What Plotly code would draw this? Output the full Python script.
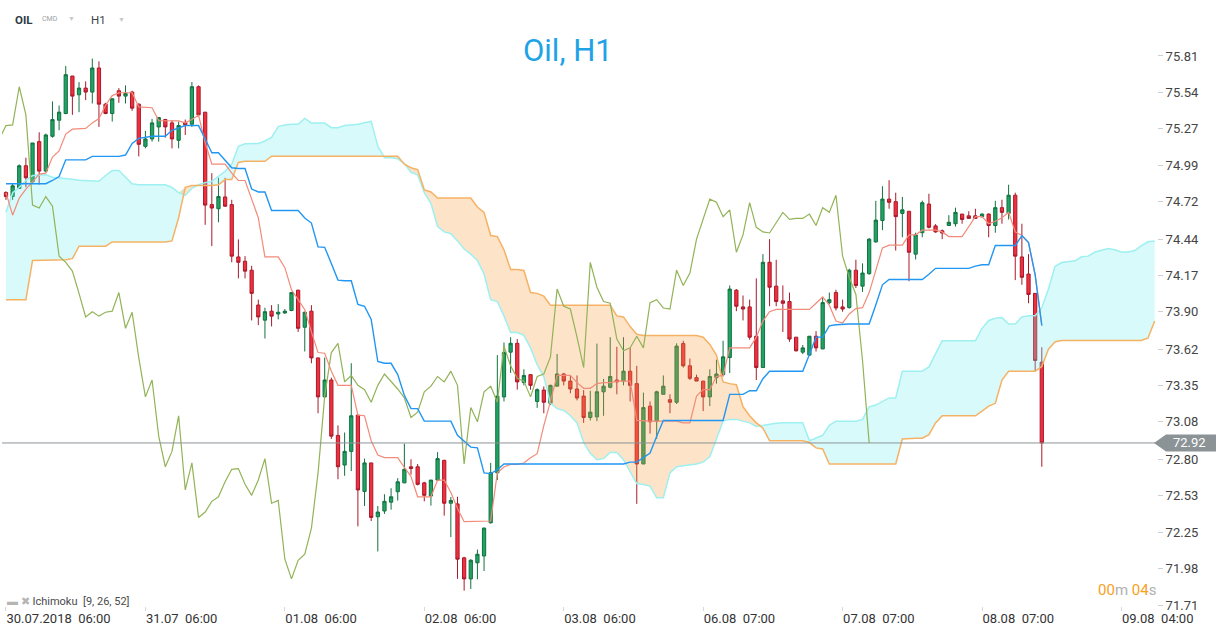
import plotly.graph_objects as go

# ---------------- data ----------------
x_tick_labels = ["30.07.2018\u00a0\u00a006:00", "31.07\u00a0\u00a006:00", "01.08\u00a0\u00a006:00",
                 "02.08\u00a0\u00a006:00", "03.08\u00a0\u00a006:00", "06.08\u00a0\u00a007:00",
                 "07.08\u00a0\u00a007:00", "08.08\u00a0\u00a007:00", "09.08\u00a0\u00a004:00"]
x_tick_bars = [0, 21, 42, 63, 84, 105, 126, 147, 168]
y_tick_labels = ["71.71", "71.98", "72.25", "72.53", "72.80", "73.08", "73.35", "73.62",
                 "73.90", "74.17", "74.44", "74.72", "74.99", "75.27", "75.54", "75.81"]
last_price = 72.92

open_ = [74.79, 74.76, 74.82, 74.99, 74.87, 75.17, 74.95, 75.21, 75.33, 75.38,
         75.66, 75.52, 75.57, 75.54, 75.72, 75.45, 75.38, 75.55, 75.51, 75.54,
         75.45, 75.135, 75.19, 75.28, 75.335, 75.31, 75.18, 75.314, 75.30, 75.58,
         75.39, 74.70, 74.669, 74.757, 74.70, 74.309, 74.277, 74.21, 73.95, 73.837,
         73.904, 73.883, 73.891, 73.909, 74.061, 73.784, 73.904, 73.555, 73.264, 73.39,
         72.976, 72.755, 72.857, 73.128, 72.558, 72.771, 72.369, 72.412, 72.478, 72.556,
         72.622, 72.742, 72.742, 72.622, 72.524, 72.643, 72.79, 72.47, 72.465, 72.062,
         71.905, 72.025, 72.076, 72.324, 72.697, 73.264, 73.598, 73.664, 73.371, 73.43,
         73.23, 73.315, 73.216, 73.344, 73.435, 73.382, 73.323, 73.27, 73.11, 73.115,
         73.302, 73.336, 73.39, 73.382, 73.456, 73.363, 72.763, 73.195, 73.083, 73.283,
         73.243, 73.224, 73.662, 73.496, 73.408, 73.382, 73.264, 73.408, 73.43, 73.558,
         74.061, 73.936, 73.936, 73.717, 73.483, 74.269, 74.091, 73.981, 73.976, 73.71,
         73.598, 73.576, 73.717, 73.622, 73.968, 74.043, 73.936, 73.931, 74.21, 74.091,
         74.184, 74.421, 74.581, 74.741, 74.722, 74.634, 74.65, 74.33, 74.49, 74.704,
         74.541, 74.504, 74.544, 74.557, 74.629, 74.616, 74.616, 74.61, 74.629, 74.544,
         74.677, 74.634, 74.77, 74.309, 74.181, 74.037, 73.523]
high = [74.80, 74.86, 75.00, 75.05, 75.16, 75.24, 75.23, 75.47, 75.44, 75.735,
        75.66, 75.615, 75.62, 75.79, 75.77, 75.46, 75.495, 75.57, 75.59, 75.55,
        75.455, 75.25, 75.34, 75.35, 75.34, 75.33, 75.32, 75.335, 75.615, 75.59,
        75.39, 74.935, 74.90, 74.90, 74.736, 74.44, 74.315, 74.243, 73.99, 73.93,
        73.949, 73.957, 73.92, 74.048, 74.064, 73.90, 73.949, 73.558, 73.558, 73.408,
        73.051, 72.998, 73.515, 73.128, 72.803, 72.771, 72.449, 72.537, 72.582, 72.657,
        72.915, 72.798, 72.763, 72.63, 72.643, 72.851, 72.795, 72.516, 72.518, 72.07,
        72.052, 72.124, 72.289, 72.771, 73.576, 73.67, 73.71, 73.696, 73.47, 73.435,
        73.328, 73.342, 73.355, 73.584, 73.443, 73.424, 73.424, 73.315, 73.31, 73.662,
        73.398, 73.71, 73.638, 73.71, 73.63, 73.496, 73.296, 73.23, 73.31, 73.424,
        73.283, 73.664, 73.683, 73.55, 73.43, 73.382, 73.47, 73.542, 73.683, 74.096,
        74.069, 74.021, 73.99, 74.149, 74.33, 74.442, 74.288, 74.096, 74.043, 73.71,
        73.651, 73.717, 73.755, 74.008, 74.043, 74.064, 73.99, 74.221, 74.288, 74.261,
        74.45, 74.728, 74.837, 74.882, 74.789, 74.757, 74.65, 74.49, 74.73, 74.781,
        74.554, 74.514, 74.621, 74.677, 74.629, 74.65, 74.669, 74.634, 74.634, 74.728,
        74.736, 74.848, 74.789, 74.557, 74.33, 74.037, 73.635]
low = [74.735, 74.735, 74.82, 74.83, 74.86, 74.85, 74.94, 75.20, 75.255, 75.375,
       75.37, 75.39, 75.48, 75.455, 75.28, 75.375, 75.32, 75.46, 75.455, 75.40,
       75.06, 75.12, 75.17, 75.17, 75.20, 75.12, 75.12, 75.22, 75.28, 75.36,
       74.549, 74.39, 74.568, 74.682, 74.269, 74.149, 74.149, 73.835, 73.80, 73.70,
       73.79, 73.843, 73.883, 73.904, 73.749, 73.603, 73.515, 73.142, 73.256, 72.95,
       72.649, 72.675, 72.71, 72.297, 72.449, 72.337, 72.11, 72.39, 72.422, 72.49,
       72.62, 72.683, 72.603, 72.484, 72.452, 72.635, 72.377, 72.217, 71.905, 71.817,
       71.83, 71.902, 71.964, 72.318, 72.643, 73.23, 73.443, 73.318, 73.35, 73.318,
       73.182, 73.142, 73.203, 73.344, 73.35, 73.291, 73.238, 73.07, 73.088, 73.083,
       73.123, 73.328, 73.283, 73.35, 73.23, 72.465, 72.763, 72.99, 72.95, 73.283,
       73.142, 73.211, 73.483, 73.39, 73.382, 73.158, 73.195, 73.363, 73.416, 73.443,
       73.904, 73.835, 73.691, 73.39, 73.483, 73.941, 73.941, 73.749, 73.675, 73.603,
       73.584, 73.571, 73.603, 73.622, 73.957, 73.909, 73.90, 73.923, 74.077, 74.048,
       74.176, 74.416, 74.509, 74.669, 74.357, 74.456, 74.128, 74.29, 74.456, 74.522,
       74.49, 74.442, 74.541, 74.536, 74.557, 74.597, 74.594, 74.602, 74.456, 74.49,
       74.557, 74.589, 74.136, 74.101, 73.963, 73.456, 72.742]
close = [74.76, 74.84, 74.99, 74.90, 75.16, 74.95, 75.22, 75.335, 75.39, 75.67,
         75.51, 75.57, 75.54, 75.72, 75.45, 75.38, 75.49, 75.51, 75.53, 75.42,
         75.15, 75.19, 75.31, 75.35, 75.28, 75.19, 75.29, 75.295, 75.58, 75.37,
         74.696, 74.674, 74.76, 74.688, 74.315, 74.269, 74.203, 74.037, 73.861, 73.90,
         73.867, 73.896, 73.904, 74.043, 73.776, 73.896, 73.555, 73.264, 73.39, 72.971,
         72.742, 72.857, 73.123, 72.569, 72.771, 72.364, 72.404, 72.484, 72.518, 72.63,
         72.723, 72.729, 72.611, 72.529, 72.643, 72.803, 72.47, 72.491, 72.052, 71.905,
         72.044, 72.089, 72.284, 72.697, 73.27, 73.595, 73.664, 73.376, 73.424, 73.35,
         73.318, 73.224, 73.35, 73.435, 73.382, 73.323, 73.256, 73.11, 73.15, 73.302,
         73.344, 73.416, 73.376, 73.456, 73.35, 72.763, 73.184, 73.078, 73.302, 73.344,
         73.224, 73.643, 73.496, 73.403, 73.382, 73.264, 73.416, 73.435, 73.563, 74.069,
         73.941, 73.92, 73.71, 73.483, 74.269, 74.083, 73.976, 73.963, 73.696, 73.608,
         73.63, 73.717, 73.63, 73.968, 73.99, 73.928, 73.92, 74.21, 74.096, 74.189,
         74.442, 74.584, 74.741, 74.717, 74.61, 74.661, 74.344, 74.474, 74.714, 74.53,
         74.496, 74.488, 74.568, 74.642, 74.589, 74.597, 74.597, 74.629, 74.544, 74.677,
         74.642, 74.77, 74.315, 74.157, 74.029, 73.536, 72.92]

tenkan = [74.789, 74.621, 74.749, 74.816, 74.869, 74.927, 74.935, 75.055, 75.10, 75.226,
          75.263, 75.266, 75.269, 75.31, 75.343, 75.442, 75.514, 75.535, 75.535, 75.535,
          75.429, 75.426, 75.423, 75.327, 75.325, 75.325, 75.325, 75.31, 75.335, 75.367,
          75.162, 75.002, 75.002, 75.002, 74.935, 74.88, 74.88, 74.736, 74.602, 74.309,
          74.309, 74.309, 74.229, 74.064, 73.99, 73.915, 73.749, 73.595, 73.59, 73.456,
          73.35, 73.35, 73.35, 73.128, 73.123, 72.937, 72.83, 72.811, 72.811, 72.811,
          72.737, 72.67, 72.518, 72.518, 72.518, 72.643, 72.643, 72.55, 72.43, 72.332,
          72.332, 72.332, 72.332, 72.337, 72.697, 72.74, 72.76, 72.76, 72.77, 72.81,
          72.84, 73.05, 73.23, 73.424, 73.424, 73.424, 73.37, 73.328, 73.328, 73.363,
          73.371, 73.371, 73.382, 73.382, 73.382, 73.088, 73.083, 73.083, 73.083, 73.083,
          73.083, 73.083, 73.07, 73.07, 73.27, 73.318, 73.318, 73.416, 73.424, 73.63,
          73.63, 73.63, 73.63, 73.71, 73.83, 73.90, 73.917, 73.917, 73.917, 73.917,
          73.917, 73.917, 73.963, 74.01, 73.949, 73.83, 73.816, 73.883, 73.923, 73.93,
          74.043, 74.203, 74.376, 74.397, 74.397, 74.397, 74.474, 74.474, 74.509, 74.509,
          74.509, 74.496, 74.461, 74.461, 74.461, 74.536, 74.61, 74.61, 74.557, 74.576,
          74.602, 74.642, 74.496, 74.469, 74.416, 74.176, 73.797]
kijun = [74.856, 74.856, 74.856, 74.856, 74.856, 74.856, 74.856, 74.88, 74.909, 75.034,
         75.034, 75.034, 75.034, 75.06, 75.06, 75.06, 75.06, 75.06, 75.07, 75.157,
         75.194, 75.20, 75.21, 75.21, 75.21, 75.255, 75.274, 75.29, 75.29, 75.29,
         75.19, 75.087, 75.087, 75.03, 74.975, 74.97, 74.97, 74.816, 74.794, 74.794,
         74.656, 74.656, 74.656, 74.656, 74.656, 74.60, 74.562, 74.384, 74.381, 74.26,
         74.136, 74.131, 74.131, 73.955, 73.941, 73.843, 73.528, 73.515, 73.515, 73.43,
         73.275, 73.176, 73.176, 73.083, 73.083, 73.083, 73.083, 73.083, 72.977, 72.93,
         72.889, 72.883, 72.697, 72.691, 72.72, 72.763, 72.763, 72.763, 72.763, 72.763,
         72.763, 72.763, 72.763, 72.763, 72.763, 72.763, 72.763, 72.763, 72.763, 72.763,
         72.763, 72.763, 72.763, 72.763, 72.777, 72.777, 72.81, 72.844, 72.97, 73.088,
         73.088, 73.088, 73.088, 73.088, 73.088, 73.088, 73.088, 73.088, 73.088, 73.283,
         73.283, 73.283, 73.31, 73.31, 73.40, 73.456, 73.456, 73.456, 73.456, 73.456,
         73.456, 73.58, 73.71, 73.71, 73.795, 73.803, 73.808, 73.808, 73.808, 73.808,
         73.808, 73.95, 74.101, 74.141, 74.141, 74.141, 74.141, 74.141, 74.141, 74.18,
         74.224, 74.224, 74.224, 74.224, 74.224, 74.224, 74.24, 74.251, 74.251, 74.394,
         74.394, 74.394, 74.394, 74.469, 74.416, 74.176, 73.797]
senkou_a = [74.642, 74.789, 74.829, 74.882, 74.917, 74.922, 74.922, 74.904, 74.901, 74.896,
            74.89, 74.882, 74.88, 74.877, 74.874, 74.917, 74.954, 74.954, 74.901, 74.856,
            74.848, 74.848, 74.848, 74.848, 74.848, 74.829, 74.789, 74.768, 74.821, 74.848,
            74.864, 74.874, 74.909, 74.949, 75.002, 75.135, 75.154, 75.157, 75.157, 75.175,
            75.202, 75.282, 75.295, 75.30, 75.30, 75.343, 75.309, 75.309, 75.309, 75.274,
            75.274, 75.29, 75.295, 75.30, 75.311, 75.322, 75.135, 75.05, 75.05, 75.042,
            75.007, 74.941, 74.922, 74.789, 74.709, 74.536, 74.496, 74.482, 74.429, 74.368,
            74.33, 74.283, 74.181, 73.99, 73.976, 73.869, 73.745, 73.744, 73.723, 73.63,
            73.504, 73.416, 73.216, 73.176, 73.163, 73.123, 73.07, 72.923, 72.843, 72.795,
            72.803, 72.849, 72.849, 72.795, 72.705, 72.617, 72.609, 72.598, 72.51, 72.51,
            72.697, 72.742, 72.75, 72.758, 72.763, 72.777, 72.817, 72.95, 73.083, 73.096,
            73.096, 73.083, 73.07, 73.043, 73.051, 73.062, 73.067, 73.07, 73.07, 73.07,
            73.07, 72.937, 72.955, 72.977, 73.051, 73.083, 73.083, 73.083, 73.083, 73.096,
            73.19, 73.203, 73.23, 73.256, 73.256, 73.456, 73.456, 73.456, 73.456, 73.488,
            73.59, 73.683, 73.683, 73.683, 73.683, 73.683, 73.683, 73.776, 73.835, 73.851,
            73.856, 73.808, 73.808, 73.861, 73.869, 73.87, 73.93, 74.07, 74.239, 74.267,
            74.273, 74.28, 74.31, 74.315, 74.346, 74.36, 74.372, 74.363, 74.346, 74.346,
            74.357, 74.394, 74.422, 74.428]
senkou_b = [73.99, 73.99, 73.99, 73.99, 74.283, 74.283, 74.283, 74.283, 74.283, 74.288,
            74.296, 74.389, 74.389, 74.389, 74.389, 74.389, 74.421, 74.421, 74.421, 74.421,
            74.421, 74.421, 74.421, 74.421, 74.421, 74.429, 74.602, 74.829, 74.842, 74.842,
            74.842, 74.842, 74.848, 74.887, 74.887, 75.015, 75.023, 75.023, 75.023, 75.023,
            75.061, 75.061, 75.061, 75.061, 75.061, 75.061, 75.061, 75.061, 75.061, 75.061,
            75.061, 75.061, 75.061, 75.061, 75.061, 75.061, 75.061, 75.061, 75.061, 75.061,
            75.002, 74.975, 74.962, 74.81, 74.794, 74.749, 74.749, 74.749, 74.749, 74.749,
            74.749, 74.682, 74.642, 74.469, 74.461, 74.362, 74.216, 74.216, 74.208, 74.043,
            74.037, 74.016, 73.949, 73.949, 73.949, 73.949, 73.949, 73.949, 73.949, 73.949,
            73.949, 73.949, 73.869, 73.861, 73.789, 73.731, 73.723, 73.723, 73.723, 73.723,
            73.723, 73.723, 73.723, 73.723, 73.723, 73.71, 73.656, 73.576, 73.376, 73.363,
            73.355, 73.19, 73.123, 73.07, 73.03, 72.937, 72.937, 72.937, 72.937, 72.937,
            72.937, 72.923, 72.883, 72.875, 72.763, 72.763, 72.763, 72.763, 72.763, 72.763,
            72.763, 72.763, 72.763, 72.763, 72.763, 72.95, 72.955, 72.955, 72.955, 72.982,
            73.07, 73.123, 73.123, 73.123, 73.123, 73.123, 73.123, 73.158, 73.195, 73.216,
            73.39, 73.456, 73.456, 73.456, 73.456, 73.456, 73.49, 73.62, 73.676, 73.685,
            73.685, 73.685, 73.685, 73.685, 73.685, 73.685, 73.685, 73.685, 73.685, 73.685,
            73.685, 73.685, 73.704, 73.83]
chikou_shift = 26

# ---------------- figure ----------------
bars = list(range(len(close)))
cloud_x = list(range(len(senkou_a)))
chikou_x = [i - chikou_shift for i in bars]
cloud_top = [max(a, b) for a, b in zip(senkou_a, senkou_b)]

W, H = 1226, 634
ML, MR, MT, MB = 2, 69, 40, 28
PW, PH = W - ML - MR, H - MT - MB


def px(xp):
    return (xp - ML) / PW


def py(yp):
    return (H - MB - yp) / PH


FONT = "Roboto, 'Open Sans', sans-serif"

fig = go.Figure()

fig.add_trace(go.Candlestick(
    x=bars, open=open_, high=high, low=low, close=close,
    increasing=dict(line=dict(color="#11713f", width=1), fillcolor="#21a366"),
    decreasing=dict(line=dict(color="#a8192b", width=1), fillcolor="#f2303d"),
    whiskerwidth=0, hoverinfo="skip", showlegend=False))

# cloud: cyan where A above B, orange where B above A
fig.add_trace(go.Scatter(x=cloud_x, y=senkou_b, mode="lines", line=dict(width=0),
                         hoverinfo="skip", showlegend=False))
fig.add_trace(go.Scatter(x=cloud_x, y=cloud_top, mode="lines", line=dict(width=0),
                         fill="tonexty", fillcolor="rgba(115,236,236,0.28)",
                         hoverinfo="skip", showlegend=False))
fig.add_trace(go.Scatter(x=cloud_x, y=senkou_a, mode="lines", line=dict(width=0),
                         hoverinfo="skip", showlegend=False))
fig.add_trace(go.Scatter(x=cloud_x, y=cloud_top, mode="lines", line=dict(width=0),
                         fill="tonexty", fillcolor="rgba(248,160,65,0.29)",
                         hoverinfo="skip", showlegend=False))

fig.add_trace(go.Scatter(x=cloud_x, y=senkou_a, mode="lines",
                         line=dict(color="#9ef0f0", width=1.5),
                         hoverinfo="skip", showlegend=False))
fig.add_trace(go.Scatter(x=cloud_x, y=senkou_b, mode="lines",
                         line=dict(color="#f6b264", width=1.5),
                         hoverinfo="skip", showlegend=False))
fig.add_trace(go.Scatter(x=chikou_x, y=close, mode="lines",
                         line=dict(color="#92b357", width=1.2),
                         hoverinfo="skip", showlegend=False))
fig.add_trace(go.Scatter(x=bars, y=tenkan, mode="lines",
                         line=dict(color="#f28b79", width=1.2),
                         hoverinfo="skip", showlegend=False))
fig.add_trace(go.Scatter(x=bars, y=kijun, mode="lines",
                         line=dict(color="#2196f3", width=1.4),
                         hoverinfo="skip", showlegend=False))

# last price line and tag
fig.add_shape(type="line", xref="paper", yref="y", x0=0, x1=1.003, y0=last_price, y1=last_price,
              line=dict(color="#8c9396", width=1), layer="above")
fig.add_shape(type="path", xref="paper", yref="y",
              path=(f"M {px(1154)} {last_price} L {px(1166)} {last_price + 0.064} "
                    f"L {px(1216)} {last_price + 0.064} L {px(1216)} {last_price - 0.064} "
                    f"L {px(1166)} {last_price - 0.064} Z"),
              fillcolor="#8c9396", line=dict(width=0), layer="above")

ann = []
ann.append(dict(x=px(1190), y=last_price, xref="paper", yref="y", text=f"{last_price:.2f}",
                showarrow=False, font=dict(family=FONT, size=13, color="#ffffff"),
                xanchor="center", yanchor="middle"))
ann.append(dict(x=px(568), y=py(50), xref="paper", yref="paper", text="Oil, H1",
                showarrow=False, font=dict(family=FONT, size=31, color="#1fa2e6"),
                xanchor="center", yanchor="middle"))
ann.append(dict(x=px(13), y=py(20), xref="paper", yref="paper", text="<b>OIL</b>",
                showarrow=False, font=dict(family=FONT, size=11.5, color="#2e3b45"),
                xanchor="left", yanchor="middle"))
ann.append(dict(x=px(40), y=py(19), xref="paper", yref="paper", text="CMD",
                showarrow=False, font=dict(family=FONT, size=7, color="#9aa3a8"),
                xanchor="left", yanchor="middle"))
ann.append(dict(x=px(66), y=py(19), xref="paper", yref="paper", text="▼",
                showarrow=False, font=dict(family=FONT, size=7, color="#c5c9cc"),
                xanchor="left", yanchor="middle"))
ann.append(dict(x=px(89), y=py(20), xref="paper", yref="paper", text="H1",
                showarrow=False, font=dict(family=FONT, size=11.5, color="#3a444b"),
                xanchor="left", yanchor="middle"))
ann.append(dict(x=px(116), y=py(20), xref="paper", yref="paper", text="▼",
                showarrow=False, font=dict(family=FONT, size=7, color="#c5c9cc"),
                xanchor="left", yanchor="middle"))
ann.append(dict(x=px(5), y=py(601), xref="paper", yref="paper",
                text="<span style='color:#b5b5b5'>▬ ✖</span> Ichimoku\u00a0\u00a0[9, 26, 52]",
                showarrow=False, font=dict(family=FONT, size=11, color="#4a4a4a"),
                xanchor="left", yanchor="middle"))
ann.append(dict(x=px(1158), y=py(590), xref="paper", yref="paper",
                text=("<span style='color:#f7a11c'>00</span><span style='color:#b0b0b0'>m</span> "
                      "<span style='color:#f7a11c'>04</span><span style='color:#b0b0b0'>s</span>"),
                showarrow=False, font=dict(family=FONT, size=15, color="#f7a11c"),
                xanchor="right", yanchor="middle"))

fig.update_layout(
    width=W, height=H,
    margin=dict(l=ML, r=MR, t=MT, b=MB),
    paper_bgcolor="#ffffff", plot_bgcolor="#ffffff",
    showlegend=False,
    annotations=ann,
    xaxis=dict(range=[-0.6, 173.35], tickmode="array", tickvals=x_tick_bars,
               ticktext=x_tick_labels, ticklabelposition="outside right",
               ticks="outside", ticklen=4, tickcolor="#d8d8d8",
               tickfont=dict(family=FONT, size=13, color="#333333"),
               showgrid=False, zeroline=False, showline=False, automargin=False,
               rangeslider=dict(visible=False), fixedrange=True),
    yaxis=dict(range=[71.7025, 75.929], side="right", tickmode="array",
               tickvals=[float(t) for t in y_tick_labels], ticktext=y_tick_labels,
               ticks="outside", ticklen=5, tickcolor="#cfcfcf",
               tickfont=dict(family=FONT, size=13, color="#444444"),
               showgrid=False, zeroline=False, showline=False, automargin=False,
               fixedrange=True),
)

fig.write_html("out.html", config={"displayModeBar": False},
               post_script="document.body.style.margin='0';document.body.style.overflow='hidden';")
